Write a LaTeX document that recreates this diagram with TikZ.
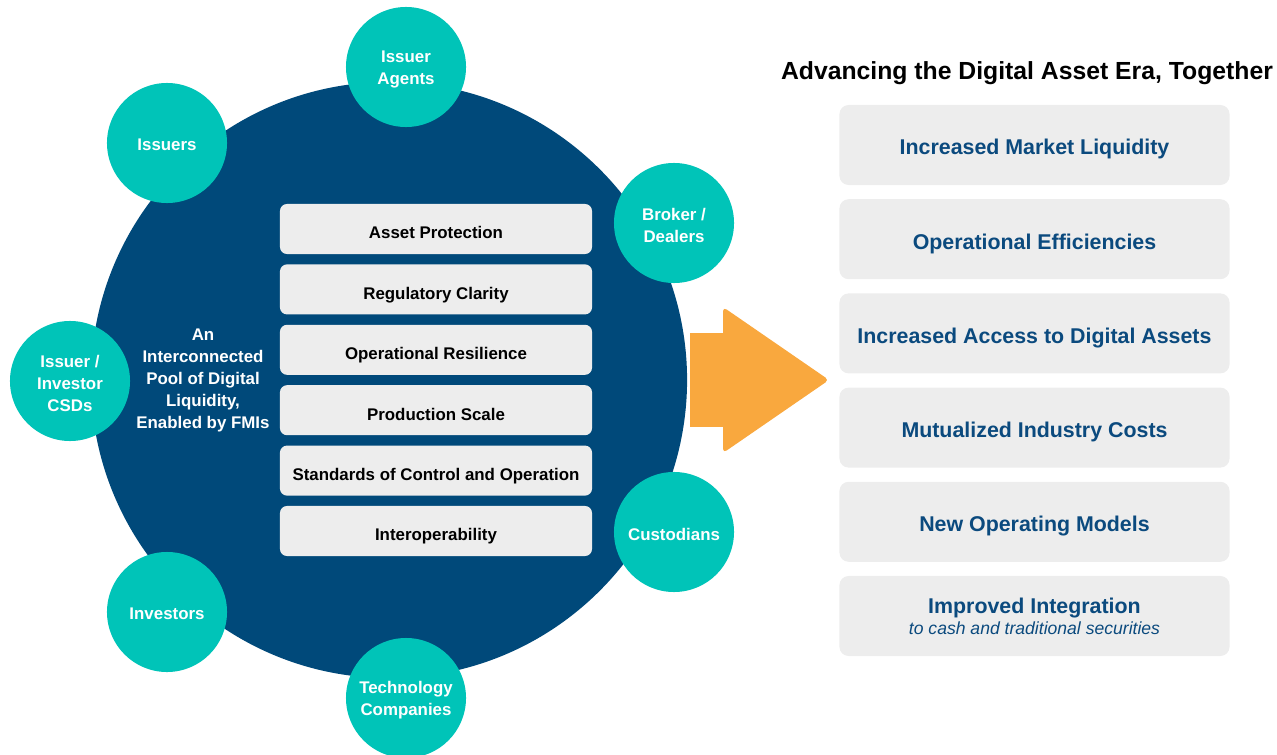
\documentclass[tikz,border=0pt]{standalone}
\usepackage{fontspec}
\setmainfont{Liberation Sans}
\usetikzlibrary{positioning}
\definecolor{poolBlue}{RGB}{0,73,122}
\definecolor{memberTeal}{RGB}{0,196,184}
\definecolor{boxGray}{RGB}{237,237,237}
\definecolor{textBlue}{RGB}{11,74,126}
\definecolor{arrowOrange}{RGB}{249,168,62}

\tikzset{
  member/.style={circle,fill=memberTeal,minimum size=3cm,inner sep=0pt},
  memberText/.style={align=center,text=white,yshift=-1.5pt,
    font=\bfseries\fontsize{12}{15.6}\selectfont},
  pillar/.style={rectangle,rounded corners=5pt,fill=boxGray,minimum width=7.8cm,
    minimum height=1.25cm,text height=14pt,text depth=0pt,
    font=\bfseries\fontsize{12}{14}\selectfont},
  benefit/.style={rectangle,rounded corners=6.5pt,fill=boxGray,minimum width=9.75cm,
    minimum height=2cm,text=textBlue,align=center,font=\bfseries\fontsize{15.2}{16}\selectfont},
}

\begin{document}
\begin{tikzpicture}[x=0.025cm,y=-0.025cm]
  \useasboundingbox (0,0) rectangle (1277,755);
  % the pool
  \node[circle,fill=poolBlue,minimum size=14.9cm,inner sep=0pt] (pool) at (389,380) {};
  % participants around the pool
  \foreach \name/\pos/\txt in {agents/{406,67}/{Issuer\\Agents}, issuers/{167,143}/Issuers,
      brokers/{674,223}/{Broker /\\Dealers}, csds/{70,381}/{Issuer /\\Investor\\CSDs},
      custodians/{674,532}/Custodians, investors/{167,612}/Investors,
      techcos/{406,698}/{Technology\\Companies}}
    \node[member,label={[memberText]center:\txt}] (\name) at (\pos) {};
  \node[memberText] (pooltxt) at (203,378)
    {An\\Interconnected\\Pool of Digital\\Liquidity,\\Enabled by FMIs};
  % pillars inside the pool
  \foreach \t [count=\i] in {Asset Protection,Regulatory Clarity,Operational Resilience,
      Production Scale,Standards of Control and Operation,Interoperability}
    \node[pillar] (p\i) at (436,{229+60.4*(\i-1)}) {\t};
  % block arrow
  \fill[arrowOrange] (690,333) rectangle (724,427);
  \fill[arrowOrange,rounded corners=3pt] (723,307) -- (829,380) -- (723,453) -- cycle;
  % outcomes
  \node[font=\bfseries\fontsize{17.6}{20}\selectfont] (title) at (1027,73)
    {Advancing the Digital Asset Era, Together};
  \foreach \t [count=\i] in {Increased Market Liquidity,Operational Efficiencies,
      Increased Access to Digital Assets,Mutualized Industry Costs,New Operating Models}
    \node[benefit,text height=14.2pt,text depth=0pt] (b\i) at (1034.5,{145+94.2*(\i-1)}) {\t};
  \node[benefit] (b6) at (1034.5,616) {Improved Integration\\[-1pt]
    {\mdseries\itshape\fontsize{12.5}{14}\selectfont to cash and traditional securities}};
\end{tikzpicture}
\end{document}
